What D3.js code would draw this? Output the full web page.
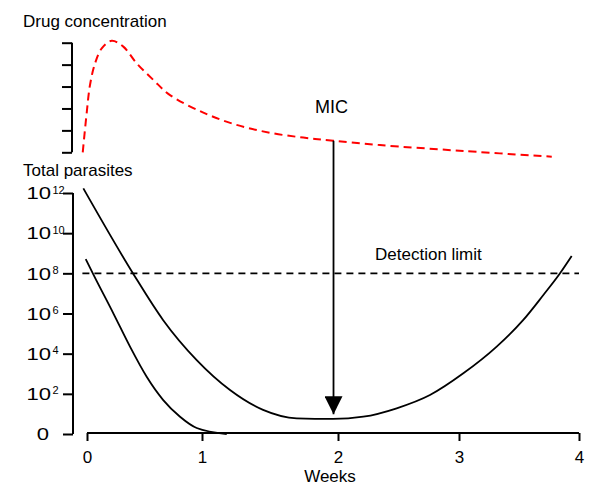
<!DOCTYPE html>
<html>
<head>
<meta charset="utf-8">
<script src="https://cdn.jsdelivr.net/npm/d3@7"></script>
<style>
  body { margin: 0; background: #fff; }
  svg { font-family: "Liberation Sans", Arial, sans-serif; }
</style>
</head>
<body>
<svg id="chart" width="600" height="500"></svg>
<script>
// weeks on x, ticks
var weekTicks = [0, 1, 2, 3, 4]
var weekLabels = ['0', '1', '2', '3', '4']

// parasite axis: log10 exponents and their labels
var expTicks = [0, 2, 4, 6, 8, 10, 12]
var expBase = ['0', '10', '10', '10', '10', '10', '10']
var expSup = ['', '2', '4', '6', '8', '10', '12']

// drug concentration axis (no labels)
var concTicks = [0, 1, 2, 3, 4, 5]

// drug concentration curve (weeks, arbitrary units)
var drugWeeks = [-0.037, -0.003, 0.026, 0.07, 0.128, 0.215, 0.316, 0.432, 0.577, 0.722, 1.01, 1.254, 1.5, 1.745, 1.965, 2.347, 3.036, 3.773]
var drugConc  = [0, 1.78, 3.07, 4.06, 4.74, 5.09, 4.82, 4.06, 3.3, 2.61, 1.81, 1.25, 0.89, 0.67, 0.53, 0.33, 0.06, -0.2]

// total parasites, high burden (log10)
var highWeeks = [-0.032, 0.403, 0.661, 0.954, 1.206, 1.449, 1.696, 1.963, 2.209, 2.485, 2.76, 3.036, 3.314, 3.536, 3.703, 3.836, 3.939]
var highLog   = [12.23, 7.97, 5.68, 3.68, 2.19, 1.2, 0.78, 0.75, 0.86, 1.28, 1.94, 3.02, 4.35, 5.68, 6.92, 7.95, 8.86]

// total parasites, low burden (log10)
var lowWeeks = [-0.011, 0.055, 0.229, 0.374, 0.519, 0.663, 0.809, 0.954, 1.182]
var lowLog   = [8.71, 7.95, 6.01, 4.35, 2.85, 1.69, 0.86, 0.3, 0]

var detectionLimit = 8
var detectionFrom = -0.04, detectionTo = 4.0
var micWeek = 1.967, micConc = 0.53, arrowTipLog = 0.98

var svg = d3.select('#chart')

// the original figure has slightly uneven week spacing
var x = d3.scaleLinear().domain(weekTicks).range([87, 202, 338, 459, 579])
var yConc = d3.scaleLinear().domain([0, 5]).range([152.3, 42.7])
var yPar = d3.scaleLinear().domain([0, 12]).range([434, 193])

var txt = 17

// titles
svg.append('text').attr('x', 23).attr('y', 27).attr('font-size', txt).text('Drug concentration')
svg.append('text').attr('x', 23).attr('y', 176).attr('font-size', txt).text('Total parasites')

// drug conc axis
var gc = svg.append('g').attr('transform', 'translate(72,0)')
gc.call(d3.axisLeft(yConc).tickValues(concTicks).tickSize(10).tickFormat(''))
gc.select('.domain').attr('d', 'M0,' + yConc(0) + 'V' + yConc(5)).attr('stroke-width', 2)
gc.selectAll('.tick line').attr('stroke-width', 2)

// parasites axis
var gp = svg.append('g').attr('transform', 'translate(73,0)')
gp.call(d3.axisLeft(yPar).tickValues(expTicks).tickSize(10).tickFormat(''))
gp.select('.domain').attr('d', 'M0,' + yPar(0) + 'V' + yPar(12)).attr('stroke-width', 2)
gp.selectAll('.tick line').attr('stroke-width', 2)

// the base digits are drawn a little wide in the original
var lab = svg.append('g')
expTicks.forEach(function (e, i) {
  var yy = yPar(e)
  lab.append('g')
    .attr('transform', 'translate(' + (expSup[i] ? 51 : 49) + ',' + (yy + 6.2) + ') scale(1.3,1)')
    .append('text')
    .attr('text-anchor', 'end').attr('font-size', txt)
    .text(expBase[i])
  if (expSup[i]) {
    lab.append('text')
      .attr('x', 52.5).attr('y', yy + 0.5)
      .attr('font-size', 11)
      .text(expSup[i])
  }
})

// weeks axis
var gx = svg.append('g').attr('transform', 'translate(0,433)')
gx.call(d3.axisBottom(x).tickValues(weekTicks).tickSize(8).tickPadding(10)
  .tickFormat(function (d, i) { return weekLabels[i] }))
gx.select('.domain').attr('d', 'M' + x(0) + ',0H' + x(4)).attr('stroke-width', 2)
gx.selectAll('.tick line').attr('stroke-width', 2)
gx.selectAll('.tick text').attr('font-size', txt).attr('font-family', null).attr('fill', '#000')
gx.selectAll('.domain, .tick line').attr('stroke', '#000')
svg.append('text').attr('x', 330).attr('y', 482).attr('text-anchor', 'middle')
  .attr('font-size', txt).text('Weeks')

// detection limit
svg.append('line')
  .attr('x1', x(detectionFrom)).attr('x2', x(detectionTo))
  .attr('y1', yPar(detectionLimit)).attr('y2', yPar(detectionLimit))
  .attr('stroke', '#000').attr('stroke-width', 1.6).attr('stroke-dasharray', '7,5')
svg.append('text').attr('x', x(2.306)).attr('y', yPar(detectionLimit) - 13.5)
  .attr('font-size', txt).text('Detection limit')

// drug curve
var lineConc = d3.line().curve(d3.curveCatmullRom)
  .x(function (d) { return x(d[0]) }).y(function (d) { return yConc(d[1]) })
svg.append('path')
  .datum(d3.zip(drugWeeks, drugConc))
  .attr('d', lineConc)
  .attr('fill', 'none').attr('stroke', '#ff0000').attr('stroke-width', 2)
  .attr('stroke-dasharray', '8,5')

var linePar = d3.line().curve(d3.curveMonotoneX)
  .x(function (d) { return x(d[0]) }).y(function (d) { return yPar(d[1]) })
svg.append('path').datum(d3.zip(highWeeks, highLog)).attr('d', linePar)
  .attr('fill', 'none').attr('stroke', '#000').attr('stroke-width', 1.8)
svg.append('path').datum(d3.zip(lowWeeks, lowLog)).attr('d', linePar)
  .attr('fill', 'none').attr('stroke', '#000').attr('stroke-width', 1.8)

// MIC arrow
svg.append('defs').append('marker')
  .attr('id', 'head').attr('markerUnits', 'userSpaceOnUse')
  .attr('markerWidth', 18).attr('markerHeight', 18)
  .attr('viewBox', '0 0 16 16').attr('refX', 16).attr('refY', 8)
  .attr('orient', 'auto')
  .append('path').attr('d', 'M0,0L16,8L0,16Z').attr('fill', '#000')
svg.append('line')
  .attr('x1', x(micWeek)).attr('x2', x(micWeek))
  .attr('y1', yConc(micConc)).attr('y2', yPar(arrowTipLog))
  .attr('stroke', '#000').attr('stroke-width', 1.8)
  .attr('marker-end', 'url(#head)')
svg.append('text').attr('x', x(micWeek) - 2).attr('y', yConc(1.79))
  .attr('text-anchor', 'middle').attr('font-size', 18).text('MIC')
</script>
</body>
</html>
